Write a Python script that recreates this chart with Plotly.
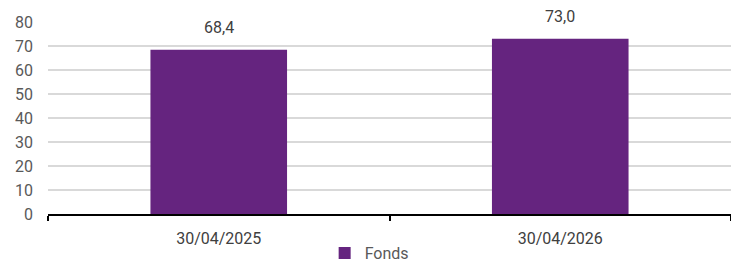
import plotly.graph_objects as go

categories = ["30/04/2025", "30/04/2026"]
values = [68.4, 73.0]
series_name = "Fonds"
labels = ["68,4", "73,0"]

fig = go.Figure()
fig.add_trace(go.Bar(
    x=categories, y=values, name=series_name,
    marker=dict(color="#65247f", line=dict(width=0)),
    showlegend=True,
))
for c, v, t in zip(categories, values, labels):
    fig.add_annotation(x=c, y=v, text=t, showarrow=False, yshift=22,
                       font=dict(family="Roboto", size=16, color="#404040"))

fig.update_layout(
    width=731, height=263,
    margin=dict(l=48, r=0, t=22, b=49, autoexpand=False),
    paper_bgcolor="white", plot_bgcolor="white",
    bargap=0.6,
    font=dict(family="Roboto", size=16, color="#595959"),
    showlegend=True,
    legend=dict(orientation="h", x=0.505, xanchor="center", xref="container",
                y=-0.115, yanchor="top", yref="paper",
                font=dict(family="Roboto", size=16, color="#595959"),
                itemwidth=30, tracegroupgap=0),
    separators=", ",
)
fig.update_xaxes(
    showline=True, linecolor="black", linewidth=1.5,
    ticks="outside", tickson="boundaries", ticklen=5, tickcolor="black", tickwidth=1.5,
    tickfont=dict(family="Roboto", size=16, color="#404040"),
    ticklabelstandoff=9,
    showgrid=False, automargin=False,
)
fig.update_yaxes(
    range=[0, 80], dtick=10, showgrid=True, gridcolor="#d9d9d9", gridwidth=1.5,
    zeroline=False, showline=False, ticks="",
    tickfont=dict(family="Roboto", size=16, color="#595959"),
    ticklabelstandoff=14, automargin=False,
)
fig.write_html(
    "out.html",
    config={"displayModeBar": False, "responsive": False},
    post_script="document.body.style.margin='0';document.body.style.overflow='hidden';",
)
